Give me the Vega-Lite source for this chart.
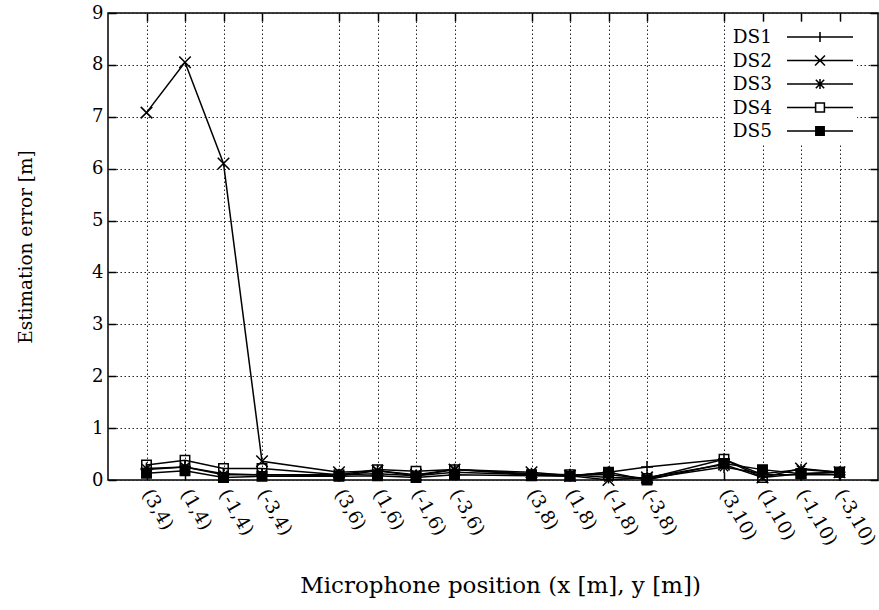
{
  "$schema": "https://vega.github.io/schema/vega-lite/v6.json",
  "width": 770,
  "height": 467,
  "autosize": {"type": "none"},
  "padding": {"left": 108, "top": 13, "right": 1, "bottom": 130},
  "config": {
    "font": "DejaVu Serif",
    "view": {"stroke": "black", "strokeWidth": 1.5},
    "axis": {"labelColor": "black", "titleColor": "black", "tickColor": "black", "tickWidth": 1.5, "titleFontWeight": "normal"}
  },
  "data": {
    "values": [
      {"pos": "(3,4)", "series": "DS1", "err": 0.2},
      {"pos": "(1,4)", "series": "DS1", "err": 0.25},
      {"pos": "(-1,4)", "series": "DS1", "err": 0.12},
      {"pos": "(-3,4)", "series": "DS1", "err": 0.1},
      {"pos": "(3,6)", "series": "DS1", "err": 0.1},
      {"pos": "(1,6)", "series": "DS1", "err": 0.12},
      {"pos": "(-1,6)", "series": "DS1", "err": 0.08},
      {"pos": "(-3,6)", "series": "DS1", "err": 0.15},
      {"pos": "(3,8)", "series": "DS1", "err": 0.1},
      {"pos": "(1,8)", "series": "DS1", "err": 0.08},
      {"pos": "(-1,8)", "series": "DS1", "err": 0.15},
      {"pos": "(-3,8)", "series": "DS1", "err": 0.25},
      {"pos": "(3,10)", "series": "DS1", "err": 0.4},
      {"pos": "(1,10)", "series": "DS1", "err": 0.1},
      {"pos": "(-1,10)", "series": "DS1", "err": 0.1},
      {"pos": "(-3,10)", "series": "DS1", "err": 0.1},
      {"pos": "(3,4)", "series": "DS2", "err": 7.08},
      {"pos": "(1,4)", "series": "DS2", "err": 8.05},
      {"pos": "(-1,4)", "series": "DS2", "err": 6.1},
      {"pos": "(-3,4)", "series": "DS2", "err": 0.36},
      {"pos": "(3,6)", "series": "DS2", "err": 0.15},
      {"pos": "(1,6)", "series": "DS2", "err": 0.18},
      {"pos": "(-1,6)", "series": "DS2", "err": 0.1},
      {"pos": "(-3,6)", "series": "DS2", "err": 0.2},
      {"pos": "(3,8)", "series": "DS2", "err": 0.15},
      {"pos": "(1,8)", "series": "DS2", "err": 0.08},
      {"pos": "(-1,8)", "series": "DS2", "err": 0.0},
      {"pos": "(-3,8)", "series": "DS2", "err": 0.05},
      {"pos": "(3,10)", "series": "DS2", "err": 0.3},
      {"pos": "(1,10)", "series": "DS2", "err": 0.05},
      {"pos": "(-1,10)", "series": "DS2", "err": 0.22},
      {"pos": "(-3,10)", "series": "DS2", "err": 0.15},
      {"pos": "(3,4)", "series": "DS3", "err": 0.22},
      {"pos": "(1,4)", "series": "DS3", "err": 0.25},
      {"pos": "(-1,4)", "series": "DS3", "err": 0.1},
      {"pos": "(-3,4)", "series": "DS3", "err": 0.1},
      {"pos": "(3,6)", "series": "DS3", "err": 0.08},
      {"pos": "(1,6)", "series": "DS3", "err": 0.18},
      {"pos": "(-1,6)", "series": "DS3", "err": 0.08},
      {"pos": "(-3,6)", "series": "DS3", "err": 0.2},
      {"pos": "(3,8)", "series": "DS3", "err": 0.12},
      {"pos": "(1,8)", "series": "DS3", "err": 0.1},
      {"pos": "(-1,8)", "series": "DS3", "err": 0.05},
      {"pos": "(-3,8)", "series": "DS3", "err": 0.03},
      {"pos": "(3,10)", "series": "DS3", "err": 0.25},
      {"pos": "(1,10)", "series": "DS3", "err": 0.12},
      {"pos": "(-1,10)", "series": "DS3", "err": 0.2},
      {"pos": "(-3,10)", "series": "DS3", "err": 0.15},
      {"pos": "(3,4)", "series": "DS4", "err": 0.29},
      {"pos": "(1,4)", "series": "DS4", "err": 0.38},
      {"pos": "(-1,4)", "series": "DS4", "err": 0.22},
      {"pos": "(-3,4)", "series": "DS4", "err": 0.22},
      {"pos": "(3,6)", "series": "DS4", "err": 0.1},
      {"pos": "(1,6)", "series": "DS4", "err": 0.2},
      {"pos": "(-1,6)", "series": "DS4", "err": 0.17},
      {"pos": "(-3,6)", "series": "DS4", "err": 0.2},
      {"pos": "(3,8)", "series": "DS4", "err": 0.1},
      {"pos": "(1,8)", "series": "DS4", "err": 0.1},
      {"pos": "(-1,8)", "series": "DS4", "err": 0.1},
      {"pos": "(-3,8)", "series": "DS4", "err": 0.03},
      {"pos": "(3,10)", "series": "DS4", "err": 0.4},
      {"pos": "(1,10)", "series": "DS4", "err": 0.05},
      {"pos": "(-1,10)", "series": "DS4", "err": 0.12},
      {"pos": "(-3,10)", "series": "DS4", "err": 0.15},
      {"pos": "(3,4)", "series": "DS5", "err": 0.13},
      {"pos": "(1,4)", "series": "DS5", "err": 0.18},
      {"pos": "(-1,4)", "series": "DS5", "err": 0.05},
      {"pos": "(-3,4)", "series": "DS5", "err": 0.07},
      {"pos": "(3,6)", "series": "DS5", "err": 0.07},
      {"pos": "(1,6)", "series": "DS5", "err": 0.08},
      {"pos": "(-1,6)", "series": "DS5", "err": 0.05},
      {"pos": "(-3,6)", "series": "DS5", "err": 0.1},
      {"pos": "(3,8)", "series": "DS5", "err": 0.08},
      {"pos": "(1,8)", "series": "DS5", "err": 0.07},
      {"pos": "(-1,8)", "series": "DS5", "err": 0.15},
      {"pos": "(-3,8)", "series": "DS5", "err": 0.0},
      {"pos": "(3,10)", "series": "DS5", "err": 0.32},
      {"pos": "(1,10)", "series": "DS5", "err": 0.2},
      {"pos": "(-1,10)", "series": "DS5", "err": 0.12},
      {"pos": "(-3,10)", "series": "DS5", "err": 0.15}
    ]
  },
  "layer": [
    {
      "mark": {"type": "line", "stroke": "black", "strokeWidth": 1.5},
      "encoding": {
        "x": {
          "field": "pos", "type": "ordinal",
          "sort": ["(3,4)","(1,4)","(-1,4)","(-3,4)","(3,6)","(1,6)","(-1,6)","(-3,6)","(3,8)","(1,8)","(-1,8)","(-3,8)","(3,10)","(1,10)","(-1,10)","(-3,10)"],
          "scale": {"type": "point", "padding": 1, "domain": ["(3,4)","(1,4)","(-1,4)","(-3,4)","_a","(3,6)","(1,6)","(-1,6)","(-3,6)","_b","(3,8)","(1,8)","(-1,8)","(-3,8)","_c","(3,10)","(1,10)","(-1,10)","(-3,10)"]},
          "axis": {
            "orient": "bottom",
            "values": ["(3,4)","(1,4)","(-1,4)","(-3,4)","(3,6)","(1,6)","(-1,6)","(-3,6)","(3,8)","(1,8)","(-1,8)","(-3,8)","(3,10)","(1,10)","(-1,10)","(-3,10)"],
            "title": "Microphone position (x [m], y [m])",
            "titleFontSize": 23, "titlePadding": 26, "titleX": 392,
            "grid": true, "gridDash": [1.5, 2.5], "gridColor": "#222", "gridWidth": 1,
            "tickSize": -8, "domain": false,
            "labelAngle": 60, "labelAlign": "left", "labelBaseline": "middle",
            "labelFontSize": 18.5, "labelPadding": 18
          }
        },
        "y": {
          "field": "err", "type": "quantitative",
          "scale": {"domain": [0, 9], "nice": false, "zero": true},
          "axis": {
            "values": [0,1,2,3,4,5,6,7,8,9],
            "title": "Estimation error [m]", "titleFontSize": 18.5, "titlePadding": 56,
            "grid": true, "gridDash": [1.5, 2.5], "gridColor": "#222", "gridWidth": 1,
            "tickSize": -8, "domain": false, "labelFontSize": 18, "labelPadding": 13
          }
        },
        "detail": {"field": "series", "type": "nominal"}
      }
    },
    {
      "mark": {"type": "point", "filled": true, "fill": "black", "stroke": "black", "strokeWidth": 1.5, "size": 110, "opacity": 1, "strokeCap": "square"},
      "encoding": {
        "x": {
          "field": "pos", "type": "ordinal",
          "scale": {"type": "point", "padding": 1, "domain": ["(3,4)","(1,4)","(-1,4)","(-3,4)","_a","(3,6)","(1,6)","(-1,6)","(-3,6)","_b","(3,8)","(1,8)","(-1,8)","(-3,8)","_c","(3,10)","(1,10)","(-1,10)","(-3,10)"]},
          "axis": null
        },
        "y": {"field": "err", "type": "quantitative", "axis": null},
        "shape": {
          "field": "series", "type": "nominal",
          "scale": {
            "domain": ["DS1","DS2","DS3","DS4","DS5"],
            "range": [
              "M-1,0H1M0,-1V1",
              "M-1,-1L1,1M-1,1L1,-1",
              "M-1,0H1M0,-1V1M-0.7,-0.7L0.7,0.7M-0.7,0.7L0.7,-0.7",
              "M-0.9,-0.9H0.9M0.9,-0.9V0.9M0.9,0.9H-0.9M-0.9,0.9V-0.9",
              "M-0.9,-0.9H0.9V0.9H-0.9Z"
            ]
          },
          "legend": null
        }
      }
    },
    {
      "mark": {"type": "point", "filled": true, "fill": "black", "stroke": "black", "strokeWidth": 1.5, "opacity": 0},
      "encoding": {
        "x": {
          "field": "pos", "type": "ordinal",
          "scale": {"type": "point", "padding": 1, "domain": ["(3,4)","(1,4)","(-1,4)","(-3,4)","_a","(3,6)","(1,6)","(-1,6)","(-3,6)","_b","(3,8)","(1,8)","(-1,8)","(-3,8)","_c","(3,10)","(1,10)","(-1,10)","(-3,10)"]},
          "axis": {
            "orient": "top", "labels": false, "title": null, "grid": false, "domain": false, "tickSize": -8,
            "values": ["(3,4)","(1,4)","(-1,4)","(-3,4)","(3,6)","(1,6)","(-1,6)","(-3,6)","(3,8)","(1,8)","(-1,8)","(-3,8)","(3,10)","(1,10)","(-1,10)","(-3,10)"]
          }
        },
        "y": {
          "field": "err", "type": "quantitative",
          "axis": {"orient": "right", "labels": false, "title": null, "grid": false, "domain": false, "tickSize": -8, "values": [0,1,2,3,4,5,6,7,8,9]}
        },
        "shape": {
          "field": "series", "type": "nominal",
          "scale": {
            "domain": ["DS1","DS2","DS3","DS4","DS5"],
            "range": [
              "M-3,-0.07H3V0.07H-3ZM-0.07,-0.45H0.07V0.45H-0.07Z",
              "M-3,-0.07H3V0.07H-3ZM-0.4,-0.5L0.5,0.4L0.4,0.5L-0.5,-0.4ZM-0.5,0.4L0.4,-0.5L0.5,-0.4L-0.4,0.5Z",
              "M-3,-0.07H3V0.07H-3ZM-0.07,-0.45H0.07V0.45H-0.07ZM-0.33,-0.43L0.43,0.33L0.33,0.43L-0.43,-0.33ZM-0.43,0.33L0.33,-0.43L0.43,-0.33L-0.33,0.43Z",
              "M-3,-0.07H-0.4V0.07H-3ZM0.4,-0.07H3V0.07H0.4ZM-0.47,-0.47H0.47V0.47H-0.47ZM-0.33,-0.33V0.33H0.33V-0.33Z",
              "M-3,-0.07H3V0.07H-3ZM-0.45,-0.45H0.45V0.45H-0.45Z"
            ]
          },
          "legend": {
            "title": null, "orient": "none", "legendX": 617, "legendY": 9,
            "symbolSize": 484, "symbolFillColor": "black", "symbolStrokeColor": "black",
            "symbolStrokeWidth": 0, "symbolOpacity": 1, "symbolOffset": 80,
            "labelOffset": -59, "labelAlign": "right", "labelFontSize": 18.5, "labelColor": "black",
            "fillColor": "white", "padding": 4, "rowPadding": 2.5,
            "encode": {
              "symbols": {
                "update": {
                  "fill": {"value": "black"},
                  "fillOpacity": {"value": 1},
                  "opacity": {"value": 1}
                }
              }
            }
          }
        }
      }
    }
  ],
  "resolve": {
    "scale": {"shape": "independent"},
    "axis": {"x": "independent", "y": "independent"}
  }
}
